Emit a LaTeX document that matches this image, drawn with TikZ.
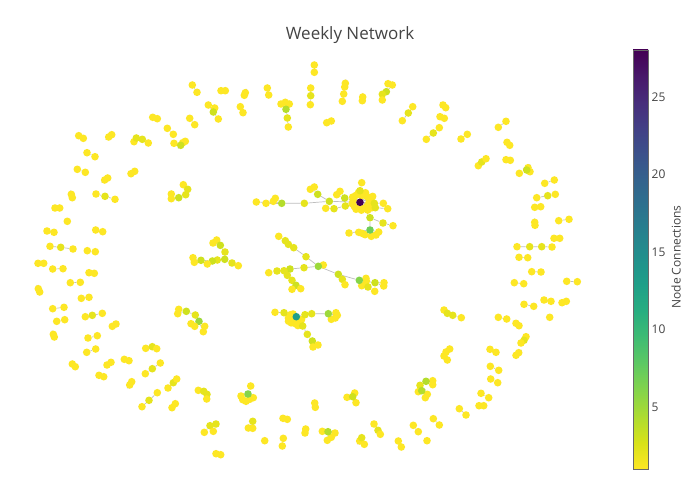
\documentclass[tikz,border=0pt]{standalone}
\usepackage{fontspec}
\setmainfont{Open Sans}
\pgfdeclarelayer{paper}
\pgfdeclarelayer{links}
\pgfsetlayers{paper,links,main}
% node colours by number of connections (viridis, reversed)
\definecolor{deg1}{HTML}{FDE725}
\definecolor{deg2}{HTML}{E6E41D}
\definecolor{deg3}{HTML}{CEE11F}
\definecolor{deg4}{HTML}{B4DD2C}
\definecolor{deg5}{HTML}{9CD93B}
\definecolor{deg6}{HTML}{84D44B}
\definecolor{deg7}{HTML}{6DCD59}
\definecolor{deg8}{HTML}{58C765}
\definecolor{deg13}{HTML}{1F9E89}
\definecolor{deg28}{HTML}{440154}
% colour bar stops, top to bottom
\definecolor{vir0}{HTML}{440154}
\definecolor{vir1}{HTML}{48186A}
\definecolor{vir2}{HTML}{472D7B}
\definecolor{vir3}{HTML}{424086}
\definecolor{vir4}{HTML}{3B528B}
\definecolor{vir5}{HTML}{33638D}
\definecolor{vir6}{HTML}{2C728E}
\definecolor{vir7}{HTML}{26828E}
\definecolor{vir8}{HTML}{21918C}
\definecolor{vir9}{HTML}{1FA088}
\definecolor{vir10}{HTML}{28AE80}
\definecolor{vir11}{HTML}{3FBC73}
\definecolor{vir12}{HTML}{5EC962}
\definecolor{vir13}{HTML}{84D44B}
\definecolor{vir14}{HTML}{ADDC30}
\definecolor{vir15}{HTML}{D8E219}
\definecolor{vir16}{HTML}{FDE725}
\definecolor{linkgray}{HTML}{BEBEBE}
\definecolor{textgray}{HTML}{444444}
\tikzset{
  dot/.style={circle, fill=#1, inner sep=0pt, minimum size=7.6pt},
  dot/.default=deg1,
  link/.style={draw=linkgray, line width=0.7pt},
  ticklabel/.style={anchor=west, inner sep=0pt, text=textgray, font=\fontsize{12}{14}\selectfont},
}
\begin{document}
\begin{tikzpicture}[x=1pt,y=-1pt]
\begin{pgfonlayer}{paper}
\fill[white] (0,0) rectangle (700,500);
\end{pgfonlayer}
\useasboundingbox (0,0) rectangle (700,500);
\node[text=textgray, font=\fontsize{17}{20}\selectfont] (title) at (350,35) {Weekly Network};

% pairs
\foreach \xa/\ya/\xb/\yb [count=\k] in {192.3/85/197/92.3, 221/90.7/225.3/90.7, 240.3/106.7/243/112.7,
  152.7/117.3/157.3/118.7, 189.7/118.3/194.7/124.7, 167.3/128.3/173.3/134.3, 78.7/135.7/83.3/138.3,
  108.7/137/111.7/134.7, 87/152.7/95/156.7, 77.3/169.3/85.3/172.3, 104.7/180/107.7/178,
  131/173.7/134.7/171.3, 71.3/194.3/72.3/197.7, 55/208/59.7/208, 314.3/65/314.3/72.3,
  245.3/92.7/244.3/95.3, 267.3/88/268.7/95, 345.3/83.3/344.7/87, 343.7/94/342.3/101.3,
  362.7/97/362.3/100.7, 326.7/122.7/331.3/121, 443/105/445.7/107.7, 440/116.7/444.3/118.3,
  467.3/134.3/461/139, 506/121.3/498.3/127.3, 507/142.3/509.7/145.3, 506/159.7/510.3/160.3,
  554.3/180/544.7/183.3, 540.7/206.7/534.7/207.3, 47/231/54/232.3, 95.7/230/102.7/231.7,
  87.3/250.7/95.3/251.7, 38/263.3/43.7/263.3, 52.7/269/63/268.7, 89/272.7/94.3/273.3,
  70.3/282.7/80.3/282.3, 38.3/288.7/39.7/292, 81.3/298.3/89/297.3, 52.7/308.7/64/307.3,
  56.7/321.3/64.7/319.7, 112.3/326.3/116/324, 53.3/334.3/54.3/337, 88/338/97.3/335.7,
  86.7/352.3/95.7/349, 124.3/359.3/129/360.7, 558.7/220.7/569/219.3, 534.7/222.3/535/225.3,
  554/238.3/559.7/238.3, 519/257.3/527.7/257.7, 531.7/271.7/541/272, 514.3/282.7/523.7/283.7,
  566.7/281.3/577.3/281.7, 544/300/551/301.3, 562/302.7/566.3/301.3, 524/304.3/533.7/306.3,
  498.3/317.3/506.7/319, 516/323.3/519/325.7, 490/349.3/496/352.3, 518.7/352.7/516/355.3,
  490.3/366.3/498.7/370.3, 490.7/379/497.7/382.7, 481/393.3/488.7/397.7, 479/405.7/483.7/405.7,
  459.3/408.7/466/415, 72.3/364/75.3/366.7, 107/365/111/362.3, 99/375.3/103.7/376.7,
  129.7/385/131.7/381.7, 172/407.7/175.3/403.7, 216/453.7/220.7/454.7, 314.7/403/315.3/407.3,
  283/418.3/287.3/419.3, 305.7/429/305/433, 283.3/438.3/282.3/446, 398.3/441/401.3/447,
  413.3/425.3/418.3/431.7, 433.3/418.7/439.3/425, 449.7/349/446/352, 444/356/447.3/360}{
  \node[dot] (pa\k) at (\xa,\ya) {};
  \node[dot] (pb\k) at (\xb,\yb) {};
  \begin{pgfonlayer}{links}\draw[link] (pa\k) -- (pb\k);\end{pgfonlayer}
}

% chains of three
\foreach \xa/\ya/\xb/\yb/\xc/\yc [count=\k] in {96/194/105/196.3/115/199.3,
  310.7/88/310.7/95.7/310.3/104.7, 412.7/106.7/408.3/113/402.3/120.7,
  439.3/127.7/433.3/133/426.3/139.3, 478.3/165.7/481.7/162/486/158.7,
  536.7/197.7/547.7/195.7/555.3/194.3, 50/246.3/60.7/247.3/73/249,
  85.3/316.7/92.3/315.3/102.3/313.3, 145.7/348.3/152.3/346.7/156.7/348.7,
  145.3/373.7/152.3/368.7/160.3/363, 168/388/173.3/382.7/176.7/379,
  142/406.7/149/400.3/157.3/392.7, 526/336.7/524/340.3/521/343,
  359.7/441/361.7/437.7/364.3/444.3, 374/424/378/430.3/380.3/434.3,
  248.3/428/252.7/421.3/252.7/428.3}{
  \node[dot] (ta\k) at (\xa,\ya) {};
  \node[dot=deg2] (tb\k) at (\xb,\yb) {};
  \node[dot] (tc\k) at (\xc,\yc) {};
  \begin{pgfonlayer}{links}\draw[link] (ta\k) -- (tb\k) -- (tc\k);\end{pgfonlayer}
}

% chains of four
\foreach \xa/\ya/\xb/\yb/\xc/\yc/\xd/\yd [count=\k] in {134/141.7/136.3/138/142.3/139.3/148.3/143,
  517/246.7/529.7/246.7/541.7/246.7/552/247, 444/310/447.3/313.3/452.7/315.3/461.3/317.7,
  198.3/390.3/203.7/391.3/207/394.3/206.7/399, 204.3/432.3/210/425.7/216/424/213.3/431.3}{
  \node[dot] (qa\k) at (\xa,\ya) {};
  \node[dot=deg2] (qb\k) at (\xb,\yb) {};
  \node[dot=deg2] (qc\k) at (\xc,\yc) {};
  \node[dot] (qd\k) at (\xd,\yd) {};
  \begin{pgfonlayer}{links}\draw[link] (qa\k) -- (qb\k) -- (qc\k) -- (qd\k);\end{pgfonlayer}
}

% small stars
\foreach \xa/\ya/\xb/\yb/\xc/\yc/\xd/\yd [count=\k] in {208.3/105/214.7/108/218.3/119/213.3/112,
  174/143.3/182.7/142.7/185.3/141.3/180.7/145.3, 528/167.7/530/171.7/519.3/173.3/526.7/170,
  347/397.3/354.7/393/356/402.7/352.7/396.7}{
  \node[dot] (sa\k) at (\xa,\ya) {};
  \node[dot] (sb\k) at (\xb,\yb) {};
  \node[dot] (sc\k) at (\xc,\yc) {};
  \node[dot=deg3] (sd\k) at (\xd,\yd) {};
  \begin{pgfonlayer}{links}\draw[link] (sa\k) -- (sd\k) -- (sb\k) (sc\k) -- (sd\k);\end{pgfonlayer}
}

% lone dots
\foreach \x/\y [count=\k] in {67.3/221.3, 549.7/317.3, 264.7/440.7, 427/440.7}
  \node[dot] (lone\k) at (\x,\y) {};

% top right group
\node[dot] (ka1) at (388,83.7) {};
\node[dot] (ka2) at (392.3,85) {};
\node[dot=deg3] (kac) at (386.3,91.7) {};
\node[dot=deg2] (ka3) at (382.3,94.3) {};
\node[dot] (ka4) at (382.3,100) {};
% top left group
\node[dot] (kb1) at (281,104) {};
\node[dot] (kb2) at (285.3,102.3) {};
\node[dot] (kb3) at (289.3,104) {};
\node[dot=deg4] (kbc) at (286,109.3) {};
\node[dot=deg2] (kb4) at (287.3,118) {};
\node[dot] (kb5) at (288.3,127) {};
% left group
\node[dot] (kc1) at (183.3,184.7) {};
\node[dot=deg2] (kc2) at (187.7,189.3) {};
\node[dot=deg2] (kc3) at (185.7,194.7) {};
\node[dot=deg3] (kc4) at (178.7,197.7) {};
\node[dot] (kc5) at (171.3,194) {};
\node[dot] (kc6) at (171.3,198.7) {};
\begin{pgfonlayer}{links}
\draw[link] (ka1) -- (kac) -- (ka2) (kac) -- (ka3) -- (ka4);
\draw[link] (kb1) -- (kbc) -- (kb2) (kb3) -- (kbc) -- (kb4) -- (kb5);
\draw[link] (kc1) -- (kc2) -- (kc3) -- (kc4) -- (kc5) (kc4) -- (kc6);
\end{pgfonlayer}

% middle left group
\node[dot] (ml1) at (213,243) {};
\node[dot] (ml2) at (216.7,240) {};
\node[dot=deg3] (ml3) at (220.3,245.3) {};
\node[dot=deg2] (ml4) at (225,252) {};
\node[dot=deg3] (ml5) at (224.7,259.3) {};
\node[dot=deg2] (ml6) at (217.3,260) {};
\node[dot=deg3] (ml7) at (212.3,261) {};
\node[dot] (ml8) at (207.3,264) {};
\node[dot=deg3] (ml9) at (201,260.3) {};
\node[dot] (ml10) at (193,257.7) {};
\node[dot] (ml11) at (194.3,262.3) {};
\node[dot=deg2] (ml12) at (232,263) {};
\node[dot] (ml13) at (238.3,265.7) {};
% lower left group
\node[dot] (lw1) at (178.7,309.3) {};
\node[dot] (lw2) at (177.7,313.7) {};
\node[dot=deg3] (lw3) at (186.3,311.3) {};
\node[dot=deg2] (lw4) at (195.3,315) {};
\node[dot=deg5] (lw5) at (199,321.3) {};
\node[dot] (lw6) at (191,323.7) {};
\node[dot] (lw7) at (194.7,326.3) {};
\node[dot] (lw8) at (204.7,326.3) {};
\node[dot] (lw9) at (203.3,331.7) {};
\begin{pgfonlayer}{links}
\draw[link] (ml1) -- (ml3) -- (ml2) (ml3) -- (ml4) -- (ml5) -- (ml6) -- (ml7) -- (ml9) -- (ml10);
\draw[link] (ml9) -- (ml11) (ml7) -- (ml8) (ml5) -- (ml12) -- (ml13);
\draw[link] (lw1) -- (lw3) -- (lw2) (lw3) -- (lw4) -- (lw5) -- (lw6) (lw5) -- (lw7) (lw5) -- (lw8) (lw5) -- (lw9);
\end{pgfonlayer}

% bottom groups
\foreach \x/\y [count=\k] in {250.7/386, 241/396, 242.7/399.7, 246/401.3, 249.7/399.3, 253.3/397.7}
  \node[dot] (bs\k) at (\x,\y) {};
\node[dot=deg6] (bsc) at (248,394) {};
\node[dot] (rb1) at (432.7,380.7) {};
\node[dot] (rb2) at (432.7,384.7) {};
\node[dot=deg4] (ra) at (426,381.3) {};
\node[dot=deg2] (rc) at (420,385.3) {};
\node[dot] (re1) at (418.3,391.7) {};
\node[dot] (re2) at (427.3,394.3) {};
\node[dot] (re3) at (425.3,397.7) {};
\node[dot=deg4] (rd) at (421.7,390.7) {};
\foreach \x/\y [count=\k] in {322.3/431.3, 335/433, 331.3/437.3, 327.3/440.3}
  \node[dot] (cs\k) at (\x,\y) {};
\node[dot=deg4] (csc) at (328,431.7) {};
\begin{pgfonlayer}{links}
\foreach \k in {1,...,6} \draw[link] (bsc) -- (bs\k);
\draw[link] (rb1) -- (ra) -- (rb2) (ra) -- (rc) -- (rd) -- (re1) (rd) -- (re2) (rd) -- (re3);
\foreach \k in {1,...,4} \draw[link] (csc) -- (cs\k);
\end{pgfonlayer}

% top hub
\coordinate (hubc) at (360,202.3);
\foreach \a/\r [count=\k] in {0/9, 15/12, 30/8, 45/11, 62/7, 80/8, 100/6, 120/8, 145/7, 170/8,
  195/7, 215/9, 240/8, 262/10, 285/7, 300/11, 320/9, 340/12, 8/14, 335/14, 25/13}
  \node[dot] (hb\k) at ([shift={(\a:\r)}]hubc) {};
\node[dot=deg2] (hu1) at (360,190.7) {};
\node[dot] (hu2) at (361.7,182.7) {};
\node[dot=deg2] (hr1) at (374.3,203.3) {};
\node[dot] (hr2) at (383.3,203.3) {};
\node[dot=deg2] (hr3) at (375.3,207.7) {};
\node[dot] (hr4) at (387.7,208.7) {};
\node[dot=deg2] (hl1) at (345.3,206) {};
\node[dot=deg2] (hl2) at (334,208.7) {};
\node[dot] (hl3) at (325.7,208.3) {};
\node[dot=deg3] (hl4) at (344.7,198) {};
\node[dot] (hl5) at (336.7,194.7) {};
\node[dot] (hl6) at (340,191.3) {};
\node[dot=deg3] (hg1) at (329.3,201.3) {};
\node[dot=deg3] (hg2) at (317.7,194.3) {};
\node[dot] (hg3) at (310.3,189.3) {};
\node[dot] (hg4) at (314.3,187) {};
\node[dot=deg2] (hg5) at (304.3,203.3) {};
\node[dot=deg4] (hg6) at (281.7,203.3) {};
\foreach \x/\y [count=\k] in {256.3/202, 266/203.3, 273.3/201.3, 275.3/198.3}
  \node[dot] (hw\k) at (\x,\y) {};
\node[dot=deg3] (hd1) at (370,217.7) {};
\node[dot=deg2] (hd2) at (383,223) {};
\node[dot] (hd3) at (393,225.7) {};
\foreach \x/\y [count=\k] in {349/233, 358.7/232.3, 362/233.3, 365/234.7, 371.3/236.3, 376/235, 378.7/232}
  \node[dot] (hs\k) at (\x,\y) {};
\node[dot=deg7] (hd4) at (370,230) {};
\node[dot=deg28] (hub) at (hubc) {};
\begin{pgfonlayer}{links}
\foreach \k in {1,...,21} \draw[link] (hub) -- (hb\k);
\draw[link] (hub) -- (hu1) -- (hu2) (hub) -- (hr1) -- (hr2) (hub) -- (hr3) -- (hr4);
\draw[link] (hub) -- (hl1) -- (hl2) -- (hl3) (hub) -- (hl4) -- (hl5) (hl4) -- (hl6);
\draw[link] (hub) -- (hg1) -- (hg2) -- (hg3) (hg2) -- (hg4) (hg1) -- (hg5) -- (hg6);
\foreach \k in {1,...,4} \draw[link] (hg6) -- (hw\k);
\draw[link] (hub) -- (hd1) -- (hd2) -- (hd3) (hd1) -- (hd4);
\foreach \k in {1,...,7} \draw[link] (hd4) -- (hs\k);
\end{pgfonlayer}

% middle group
\node[dot] (mleaf) at (323.3,265) {};
\node[dot=deg2] (ma1) at (306,256.7) {};
\node[dot=deg2] (ma2) at (293.7,247.7) {};
\node[dot=deg2] (ma3) at (288.3,244.3) {};
\node[dot=deg2] (ma4) at (285.3,240.7) {};
\node[dot] (ma5) at (278.7,236.3) {};
\node[dot=deg2] (mb1) at (304,267.7) {};
\node[dot=deg3] (mb2) at (290,269) {};
\node[dot=deg2] (mb3) at (284,270.7) {};
\node[dot=deg2] (mb4) at (277,271) {};
\node[dot] (mb5) at (268.7,272.7) {};
\node[dot=deg2] (mc1) at (287.3,275.3) {};
\node[dot=deg2] (mc2) at (292,280.3) {};
\node[dot=deg3] (mc3) at (296,285.3) {};
\node[dot] (mc4) at (300.7,288.7) {};
\node[dot] (mc5) at (292,289.3) {};
\node[dot=deg3] (me1) at (338.3,274.3) {};
\node[dot=deg2] (me2) at (342.3,279.3) {};
\node[dot] (me3) at (345,284.7) {};
\node[dot] (mn1) at (366,278.3) {};
\node[dot] (mn2) at (366.3,281) {};
\node[dot] (mn3) at (361.7,285.7) {};
\node[dot=deg2] (mn4) at (368,287) {};
\node[dot] (mn5) at (374.7,291.3) {};
\node[dot=deg3] (mn6) at (375,282.7) {};
\node[dot] (mn7) at (384,282.7) {};
\node[dot] (mn8) at (383.7,286) {};
\node[dot=deg6] (mnc) at (359.3,280.3) {};
\node[dot=deg5] (mc) at (318.3,266.3) {};
\begin{pgfonlayer}{links}
\draw[link] (mc) -- (mleaf) (mc) -- (ma1) -- (ma2) -- (ma3) -- (ma4) -- (ma5);
\draw[link] (mc) -- (mb1) -- (mb2) -- (mb3) -- (mb4) -- (mb5);
\draw[link] (mb2) -- (mc1) -- (mc2) -- (mc3) -- (mc4) (mc3) -- (mc5);
\draw[link] (mc) -- (me1) -- (mnc) (me1) -- (me2) -- (me3);
\draw[link] (mnc) -- (mn1) (mnc) -- (mn2) (mnc) -- (mn3) (mnc) -- (mn4) -- (mn5);
\draw[link] (mnc) -- (mn6) -- (mn7) (mn6) -- (mn8);
\end{pgfonlayer}

% lower hub
\coordinate (lhc) at (296.3,316.7);
\foreach \a/\r [count=\k] in {100/7, 130/8, 150/9, 170/8, 200/6, 60/8, 80/9, 120/4, 30/6}
  \node[dot] (lb\k) at ([shift={(\a:\r)}]lhc) {};
\node[dot=deg2] (lh1) at (284,312.7) {};
\node[dot] (lh2) at (275,312.3) {};
\node[dot] (lh3) at (293,314) {};
\node[dot=deg2] (lh4) at (305,314.7) {};
\node[dot=deg2] (lh5) at (311.7,313.7) {};
\foreach \x/\y [count=\k] in {336/312.7, 337.3/315.3, 335.3/318, 331.3/319.3}
  \node[dot] (lk\k) at (\x,\y) {};
\node[dot=deg5] (lkc) at (328.3,313.7) {};
\node[dot=deg2] (ld1) at (302.7,326) {};
\node[dot=deg2] (ld2) at (307.3,334.3) {};
\node[dot=deg3] (ld3) at (312.3,341) {};
\node[dot] (ld4) at (318,345) {};
\node[dot] (ld5) at (313,347) {};
\node[dot=deg13] (lhub) at (lhc) {};
\begin{pgfonlayer}{links}
\foreach \k in {1,...,9} \draw[link] (lhub) -- (lb\k);
\draw[link] (lhub) -- (lh1) -- (lh2) (lhub) -- (lh3) (lhub) -- (lh4) -- (lh5) -- (lkc);
\foreach \k in {1,...,4} \draw[link] (lkc) -- (lk\k);
\draw[link] (lhub) -- (ld1) -- (ld2) -- (ld3) -- (ld4) (ld3) -- (ld5);
\end{pgfonlayer}

% colour bar
\foreach \i in {0,...,15}{
  \pgfmathtruncatemacro\j{\i+1}
  \shade[top color=vir\i, bottom color=vir\j] (633,{50+\i*26.1875-0.2}) rectangle (648,{50+\j*26.1875+0.2});
}
\draw[draw=textgray!80, line width=0.8pt] (633,50) rectangle (648,469);
\foreach \v in {5,10,15,20,25}
  \node[ticklabel] (tick\v) at (651.5,{469-(\v-1)*15.5}) {\v};
\node[rotate=90, text=textgray, font=\fontsize{12}{14}\selectfont] (bartitle) at (676,257) {Node Connections};
\end{tikzpicture}
\end{document}
